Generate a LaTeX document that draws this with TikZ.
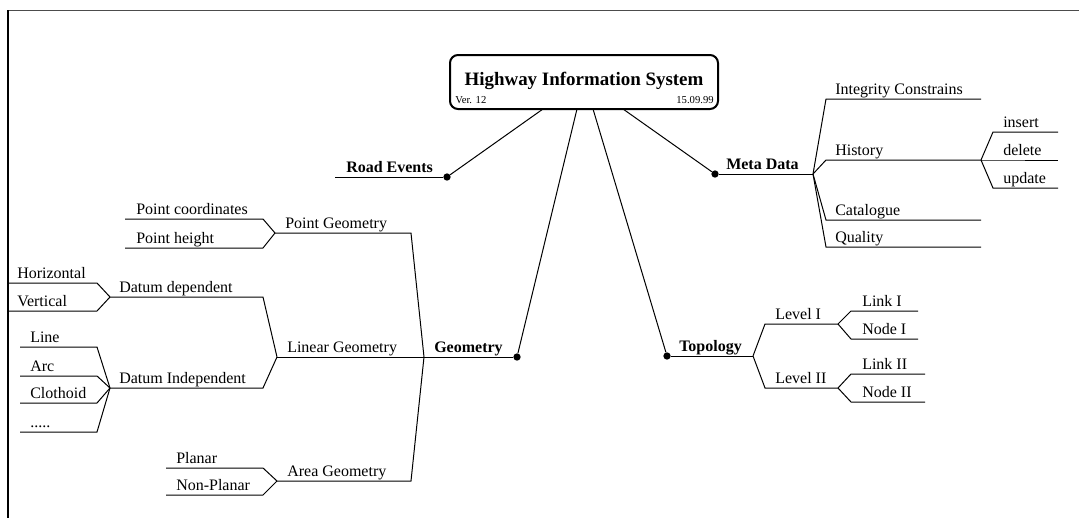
\documentclass[tikz,border=0pt]{standalone}
\usepackage{fontspec}
\setmainfont{Liberation Serif}
\begin{document}
\begin{tikzpicture}[x=0.75pt,y=-0.75pt,
  link/.style={line width=0.75pt,black},
  lbl/.style={anchor=base west,inner sep=0pt,font=\fontsize{12}{14}\selectfont},
  blbl/.style={lbl,font=\fontsize{12}{14}\selectfont\bfseries},
  hub/.style={circle,fill=black,inner sep=0pt,minimum size=5.5pt},
  titlebox/.style={draw,line width=1.5pt,rounded corners=6pt,inner sep=0pt,
                   minimum width=201pt,minimum height=40.5pt}]
\useasboundingbox (0,0) rectangle (1079,518);
% page frame
\draw[line width=0.75pt,black!70] (7,10) -- (1079,10);
\draw[line width=1.6pt] (8,10) -- (8,518);

% branch helper: fork, name, bend x, y, end x, label x, text
\newcommand{\twig}[7]{%
  \coordinate (#2b) at (#3,#4);
  \coordinate (#2e) at (#5,#4);
  \draw[link] (#1) -- (#2b) -- (#2e);
  \node[lbl] (#2) at (#6,#4-5) {#7};}

% root
\node[titlebox] (hwis) at (584,82) {};
\node[anchor=base,inner sep=0pt,font=\fontsize{14.2}{16}\selectfont\bfseries] (title) at (584,85) {Highway Information System};
\node[anchor=base west,inner sep=0pt,font=\fontsize{8}{9}\selectfont] (ver) at (455,103) {Ver. 12};
\node[anchor=base east,inner sep=0pt,font=\fontsize{8}{9}\selectfont] (date) at (714,103) {15.09.99};
\coordinate (e1) at (543,109);
\coordinate (e2) at (577,109);
\coordinate (e3) at (593,109);
\coordinate (e4) at (623,109);

% main topics
\node[hub] (re) at (447,177) {};
\coordinate (reE) at (335,177);
\draw[link] (e1) -- (re);
\draw[link] (re) -- (reE);
\node[blbl] (reL) at (346,172) {Road Events};

\node[hub] (geo) at (517,357) {};
\coordinate (geoF) at (424,357);
\draw[link] (e2) -- (geo);
\draw[link] (geo) -- (geoF);
\node[blbl] (geoL) at (434,352) {Geometry};

\node[hub] (top) at (667,356) {};
\coordinate (topF) at (753,356);
\draw[link] (e3) -- (top);
\draw[link] (top) -- (topF);
\node[blbl] (topL) at (679,351) {Topology};

\node[hub] (meta) at (715,174) {};
\coordinate (metaF) at (813,174);
\draw[link] (e4) -- (meta);
\draw[link] (meta) -- (metaF);
\node[blbl] (metaL) at (726,169) {Meta Data};

% meta data
\twig{metaF}{integ}{826}{99}{981}{835}{Integrity Constrains}
\twig{metaF}{hist}{826}{160}{981}{835}{History}
\twig{metaF}{cat}{826}{220}{981}{835}{Catalogue}
\twig{metaF}{qual}{826}{247}{981}{835}{Quality}
\twig{histe}{ins}{993}{132}{1058}{1003}{insert}
\twig{histe}{del}{993}{160}{1058}{1003}{delete}
\twig{histe}{upd}{993}{188}{1058}{1003}{update}

% topology
\twig{topF}{lvA}{765}{324}{838}{775}{Level I}
\twig{topF}{lvB}{765}{388}{838}{775}{Level II}
\twig{lvAe}{lkA}{851}{311}{918}{862}{Link I}
\twig{lvAe}{ndA}{851}{339}{918}{862}{Node I}
\twig{lvBe}{lkB}{851}{374}{925}{862}{Link II}
\twig{lvBe}{ndB}{851}{402}{925}{862}{Node II}

% geometry
\twig{geoF}{ptg}{411}{233}{275}{285}{Point Geometry}
\twig{geoF}{lin}{424}{357}{277}{287}{Linear Geometry}
\twig{geoF}{area}{411}{481}{277}{287}{Area Geometry}

\twig{ptge}{pco}{263}{219}{125}{136}{Point coordinates}
\twig{ptge}{phe}{263}{248}{125}{136}{Point height}

\twig{line}{dd}{263}{297}{110}{119}{Datum dependent}
\twig{line}{di}{263}{388}{110}{119}{Datum Independent}

\twig{dde}{hor}{97}{283}{8}{17}{Horizontal}
\twig{dde}{ver}{97}{311}{8}{17}{Vertical}

\twig{die}{lne}{97}{347}{20}{30}{Line}
\twig{die}{arc}{97}{376}{20}{30}{Arc}
\twig{die}{clo}{97}{403}{20}{30}{Clothoid}
\twig{die}{etc}{97}{432}{20}{30}{.....}

\twig{areae}{pla}{263}{468}{166}{176}{Planar}
\twig{areae}{npl}{263}{495}{166}{176}{Non-Planar}
\end{tikzpicture}
\end{document}
